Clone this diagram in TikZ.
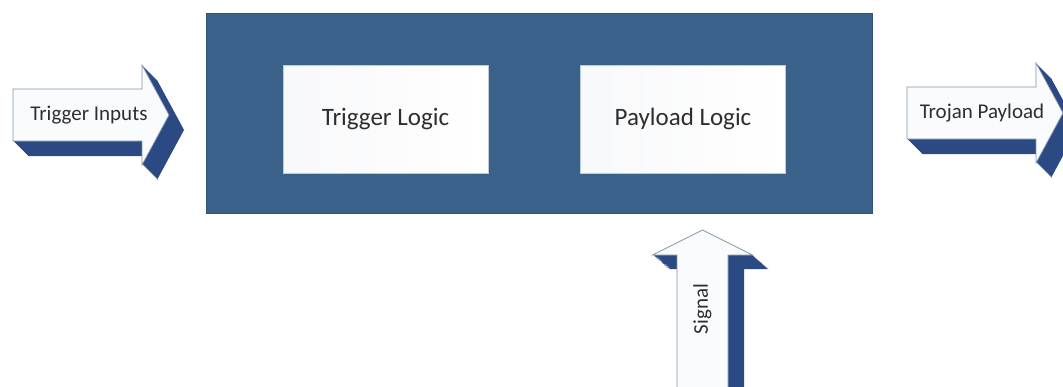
\documentclass[tikz,border=0pt]{standalone}
\usepackage{fontspec}
\setmainfont{Carlito}
\definecolor{corefill}{HTML}{3A6189}
\definecolor{coreedge}{HTML}{315579}
\definecolor{extrude}{HTML}{2B4A84}
\definecolor{faceedge}{HTML}{8393AB}
\definecolor{facefill}{HTML}{FAFBFD}
\definecolor{inkgray}{HTML}{2E2E2E}
\begin{document}
\begin{tikzpicture}[x=1pt,y=-1pt,
  core/.style={fill=corefill,draw=coreedge,line width=0.6pt,minimum width=666pt,minimum height=200pt,inner sep=0pt},
  logicbox/.style={draw=faceedge!50,line width=0.6pt,left color=white!94!faceedge,right color=white,
    minimum width=205pt,minimum height=108pt,inner sep=0pt,text=inkgray,font=\fontsize{25}{30}\selectfont},
  arrowface/.style={fill=facefill,draw=faceedge,line width=0.7pt,line join=miter},
  arrowlabel/.style={text=inkgray,font=\fontsize{21}{25}\selectfont,inner sep=0pt}]
\useasboundingbox (0,0) rectangle (1063,386);
\clip (0,0) rectangle (1063,386);

% horizontal block arrow outline: shaft left end x, centre line y
\def\harrow#1#2{(#1,#2-26) -- (#1+129,#2-26) -- (#1+129,#2-50) -- (#1+156,#2)
  -- (#1+129,#2+50) -- (#1+129,#2+26) -- (#1,#2+26) -- cycle}
% upward block arrow outline: centre line x, tip y
\def\uarrow#1#2{(#1,#2) -- (#1+50,#2+25) -- (#1+25.5,#2+25) -- (#1+25.5,#2+180)
  -- (#1-25.5,#2+180) -- (#1-25.5,#2+25) -- (#1-50,#2+25) -- cycle}

% central block
\node[core] (core) at (539,113) {};
\node[logicbox] (trigger) at (385.5,119) {Trigger Logic};
\node[logicbox] (payload) at (683,119) {Payload Logic};

% Trigger Inputs arrow (extruded towards the lower right)
\foreach \k in {1,...,15} \fill[extrude] [shift={(\k,\k)}] \harrow{13}{115};
\fill[arrowface] \harrow{13}{115};
\node[arrowlabel] (inputs) at (89,115) {Trigger Inputs};

% Trojan Payload arrow
\foreach \k in {1,...,15} \fill[extrude] [shift={(\k,\k)}] \harrow{907}{113};
\fill[arrowface] \harrow{907}{113};
\node[arrowlabel] (trojan) at (982,113) {Trojan Payload};

% Signal arrow
\foreach \k in {1,...,16} \fill[extrude] [shift={(\k,\k*0.875)}] \uarrow{702.5}{230};
\fill[arrowface] \uarrow{702.5}{230};
\node[arrowlabel,rotate=90] (signal) at (702.5,309) {Signal};
\end{tikzpicture}
\end{document}
